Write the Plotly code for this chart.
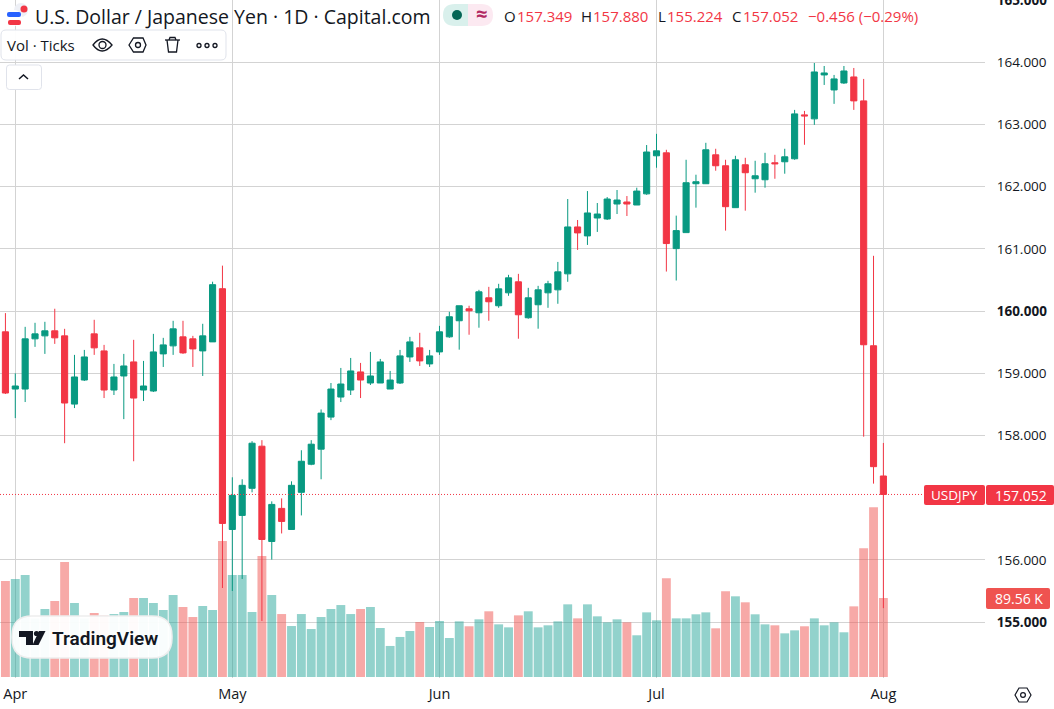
import plotly.graph_objects as go

# ---------- data ----------
sessions = list(range(-1, 89))
opens = [159.667,158.747,158.747,159.554,159.602,159.683,159.602,158.505,158.892,159.634,159.360,158.731,158.957,159.183,158.731,158.715,159.312,159.441,159.586,159.554,159.360,159.505,160.360,156.489,156.715,157.151,157.828,156.296,156.828,156.489,157.086,157.538,157.780,158.296,158.618,158.731,159.022,158.844,158.844,158.747,158.844,159.263,159.409,159.151,159.344,159.586,159.845,160.037,159.973,160.214,160.086,160.294,160.471,159.893,160.102,160.294,160.342,160.599,161.353,161.209,161.497,161.481,161.722,161.754,161.706,161.885,162.497,162.545,161.005,161.262,162.048,162.048,162.513,162.337,161.663,162.353,162.128,162.112,162.385,162.401,162.449,163.155,163.091,163.797,163.556,163.668,163.765,163.380,159.443,157.349]
highs = [159.968,159.000,159.747,159.812,159.828,160.038,159.715,159.296,159.376,159.860,159.457,159.151,159.312,159.538,159.199,159.634,159.570,159.844,159.844,159.602,159.796,160.473,160.731,157.328,157.296,157.909,157.925,156.941,156.989,157.263,157.763,157.925,158.419,158.844,159.086,159.247,159.167,159.344,159.231,159.038,159.376,159.586,159.651,159.376,159.763,159.989,160.086,160.086,160.342,160.390,160.439,160.583,160.599,160.374,160.406,160.487,160.791,161.802,161.465,161.930,161.738,161.834,161.947,161.850,161.984,162.670,162.850,162.594,161.535,162.433,162.193,162.706,162.610,162.433,162.497,162.465,162.417,162.545,162.513,162.610,163.235,163.219,163.989,163.941,163.797,163.941,163.909,163.733,160.889,157.880]
lows = [158.667,158.280,158.538,159.425,159.312,159.473,157.876,158.441,158.876,159.296,158.602,158.651,158.263,157.586,158.554,158.699,159.102,159.296,159.312,159.102,158.957,159.505,155.548,155.500,155.693,157.086,155.018,156.005,156.425,156.489,156.715,157.522,157.296,158.247,158.538,158.651,158.602,158.812,158.844,158.747,158.828,159.183,159.118,159.102,159.296,159.570,159.380,159.620,159.733,159.845,160.053,160.246,159.556,159.877,159.717,160.053,160.118,160.471,160.984,161.064,161.273,161.465,161.561,161.529,161.706,161.870,162.305,160.636,160.492,161.262,161.663,162.048,162.257,161.294,161.663,161.615,161.904,161.984,162.128,162.209,162.433,162.674,162.995,163.636,163.332,163.652,163.235,157.981,157.226,155.224]
closes = [158.683,158.796,159.554,159.634,159.683,159.570,158.522,158.941,159.263,159.409,158.731,158.941,159.118,158.602,158.796,159.344,159.457,159.715,159.328,159.392,159.602,160.425,156.586,157.038,157.199,157.876,156.328,156.892,156.618,157.199,157.586,157.860,158.360,158.747,158.828,159.038,158.892,158.957,159.183,158.892,159.280,159.505,159.199,159.280,159.667,159.909,160.086,160.005,160.310,160.150,160.358,160.535,159.941,160.214,160.342,160.439,160.631,161.353,161.257,161.578,161.561,161.802,161.786,161.722,161.930,162.558,162.577,161.086,161.294,162.064,162.080,162.594,162.337,161.679,162.433,162.225,162.176,162.369,162.369,162.481,163.171,163.139,163.845,163.829,163.733,163.861,163.380,159.459,157.499,157.052]
volumes = [108.9,111.1,115.7,66.5,77.1,86.2,130.4,83.9,66.5,72.6,69.6,71.4,73.7,89.6,89.6,83.9,76.0,93.0,79.4,68.0,80.5,76.0,154.2,115.7,115.7,73.7,137.2,93.0,71.4,57.8,71.4,54.4,68.0,77.1,81.6,71.4,77.1,79.4,55.6,35.2,45.4,52.2,62.4,56.7,63.5,44.2,63.1,57.5,65.4,74.5,59.7,56.3,69.9,74.5,56.3,58.6,63.1,82.4,66.5,82.4,68.8,62.0,65.4,62.0,47.3,73.3,64.3,111.9,66.5,66.5,71.1,73.3,55.2,97.1,91.5,84.7,71.1,59.7,58.6,49.5,52.9,57.5,66.5,58.6,62.0,50.7,80.1,145.9,192.4,89.56]
month_ticks = [0, 22, 43, 65, 88]
month_labels = ["Apr", "May", "Jun", "Jul", "Aug"]
price_ticks = [155, 156, 158, 159, 160, 161, 162, 163, 164, 165]
price_labels = ["<b>155.000</b>", "156.000", "158.000", "159.000", "<b>160.000</b>", "161.000", "162.000", "163.000", "164.000", "<b>165.000</b>"]
last_price = closes[-1]

# ---------- page geometry ----------
W, H = 1054, 709
PL, PR, PT, PB = 0, 985, 0, 678
TEAL, RED = "#089981", "#F23645"
INK = "#131722"
FONT = "Open Sans"

def fx(x): return (x - PL) / (PR - PL)
def fy(y): return 1 - (y - PT) / (PB - PT)

def path(*cmds):
    out = []
    for c in cmds:
        if isinstance(c, str):
            out.append(c)
        else:
            out.append(f"{fx(c[0]):.5f},{fy(c[1]):.5f}")
    return " ".join(out)

def rrect(x0, y0, x1, y1, r, **kw):
    d = path("M", (x0 + r, y0), "L", (x1 - r, y0), "Q", (x1, y0), (x1, y0 + r), "L", (x1, y1 - r),
             "Q", (x1, y1), (x1 - r, y1), "L", (x0 + r, y1), "Q", (x0, y1), (x0, y1 - r),
             "L", (x0, y0 + r), "Q", (x0, y0), (x0 + r, y0), "Z")
    return dict(type="path", xref="paper", yref="paper", path=d, **kw)

def poly(pts, close=True, **kw):
    cmds = []
    for i, p in enumerate(pts):
        cmds += ["M" if i == 0 else "L", p]
    if close:
        cmds.append("Z")
    return dict(type="path", xref="paper", yref="paper", path=path(*cmds), **kw)

def circle(cx, cy, r, **kw):
    return dict(type="circle", xref="paper", yref="paper", x0=fx(cx - r), x1=fx(cx + r), y0=fy(cy + r), y1=fy(cy - r), **kw)

def text(x, y, s, size=14, color=INK, anchor="left", family=FONT, weight=None):
    f = dict(family=family, size=size, color=color)
    if weight:
        f["weight"] = weight
    return dict(xref="paper", yref="paper", x=fx(x), y=fy(y), text=s, showarrow=False, xanchor=anchor, yanchor="middle",
                font=f, borderpad=0)

NOLINE = dict(width=0)
ICON = dict(color=INK, width=1.3)
shapes = [
    # last-price line
    dict(type="line", xref="paper", yref="y2", x0=0, x1=fx(925), y0=last_price, y1=last_price,
         line=dict(color=RED, width=1, dash="1px,2px")),
    # legend pills
    dict(type="path", xref="paper", yref="paper", fillcolor="#D9F0EC", line=NOLINE,
         path=path("M", (468, 4), "L", (455, 4), "Q", (443, 4), (443, 15), "Q", (443, 26), (455, 26), "L", (468, 26), "Z")),
    dict(type="path", xref="paper", yref="paper", fillcolor="#FCE9F1", line=NOLINE,
         path=path("M", (468, 4), "L", (481, 4), "Q", (493, 4), (493, 15), "Q", (493, 26), (481, 26), "L", (468, 26), "Z")),
    circle(457, 15, 5, fillcolor="#056656", line=NOLINE),
    # flag
    circle(21, 10, 7, fillcolor="#EEF0F6", line=NOLINE),
    circle(24, 9, 3.5, fillcolor="#F23645", line=NOLINE),
    circle(14, 18, 8, fillcolor="white", line=NOLINE),
    rrect(7, 12, 21, 17, 2, fillcolor="#2962FF", line=NOLINE),
    rrect(8, 20, 21, 25, 2, fillcolor="#F23645", line=NOLINE),
    # indicator bar
    rrect(1, 30, 226, 60, 5, fillcolor="rgba(255,255,255,0.95)", line=dict(color="#E0E3EB", width=1)),
    # eye
    dict(type="path", xref="paper", yref="paper", line=ICON,
         path=path("M", (93, 45), "Q", (102, 33), (112, 45), "Q", (102, 57), (93, 45), "Z")),
    circle(102.5, 45, 3.5, line=ICON),
    # hexagon
    poly([(129, 45), (133.5, 38), (143, 38), (146, 45), (143, 52), (133.5, 52)], line=ICON),
    circle(138, 45, 2.5, line=ICON),
    # trash
    poly([(165, 40), (180, 40)], close=False, line=ICON),
    poly([(169, 40), (170, 37.5), (175, 37.5), (176, 40)], close=False, line=ICON),
    poly([(167, 40), (168.5, 52), (176.5, 52), (178, 40)], close=False, line=ICON),
    # dots
    circle(199, 45.5, 2, line=ICON), circle(207, 45.5, 2, line=ICON), circle(215, 45.5, 2, line=ICON),
    # collapse button
    rrect(6.5, 65, 41.5, 89.5, 3, fillcolor="white", line=dict(color="#E0E3EB", width=1)),
    poly([(19, 79), (23.5, 75), (28, 79)], close=False, line=dict(color=INK, width=1.5)),
    # watermark pill
    rrect(12, 616, 172, 658, 20, fillcolor="rgba(255,255,255,0.95)", line=dict(color="#EEEEEE", width=1.5)),
    poly([(19, 631), (33, 631), (33, 645), (26, 645), (26, 637), (19, 637)], fillcolor=INK, line=NOLINE),
    circle(36.5, 633.5, 2.6, fillcolor=INK, line=NOLINE),
    poly([(39, 631), (45.5, 631), (38.5, 645), (32.5, 645)], fillcolor=INK, line=NOLINE),
    # price tags
    rrect(924, 485, 985, 505, 2, fillcolor=RED, line=NOLINE),
    rrect(986, 485, 1054, 505, 2, fillcolor=RED, line=NOLINE),
    rrect(986, 588, 1050, 609, 2, fillcolor="#EF5350", line=NOLINE),
    # settings hexagon
    poly([(1015, 695), (1019, 688), (1027, 688), (1031, 695), (1027, 702), (1019, 702)], line=dict(color=INK, width=1.2)),
    circle(1023, 695, 2.4, line=dict(color=INK, width=1.2)),
]

annotations = [
    text(34, 16, "U.S. Dollar / Japanese Yen · 1D · Capital.com", size=19.5),
    text(475, 14, "<b>≈</b>", size=20, color="#B22A63"),
    text(503, 16, "O", size=15),
    text(516, 16, "157.349", size=15, color=RED),
    text(580, 16, "H", size=15),
    text(592, 16, "157.880", size=15, color=RED),
    text(656.5, 16, "L", size=15),
    text(666, 16, "155.224", size=15, color=RED),
    text(731, 16, "C", size=15),
    text(742, 16, "157.052", size=15, color=RED),
    text(807, 16, "−0.456 (−0.29%)", size=15, color=RED),
    text(6, 45, "Vol · Ticks", size=15),
    text(51, 638, "TradingView", size=19, weight=600, family="Roboto"),
    text(954.5, 495, "USDJPY", size=13.5, color="white", anchor="center", weight=500),
    text(1021, 495, "157.052", size=14, color="white", anchor="center", weight=500),
    text(1019, 598.5, "89.56 K", size=14, color="white", anchor="center", weight=500),
]

# ---------- traces ----------
volume_colors = ["rgba(239,83,80,0.5)" if c < o else "rgba(38,166,154,0.5)" for o, c in zip(opens, closes)]

fig = go.Figure()
fig.add_trace(go.Bar(x=sessions, y=volumes, marker=dict(color=volume_colors, line=dict(width=0)), yaxis="y", hoverinfo="skip"))
fig.add_trace(go.Candlestick(
    x=sessions, open=opens, high=highs, low=lows, close=closes, yaxis="y2", whiskerwidth=0, hoverinfo="skip",
    increasing=dict(line=dict(color=TEAL, width=1), fillcolor=TEAL),
    decreasing=dict(line=dict(color=RED, width=1), fillcolor=RED),
))

fig.update_layout(
    width=W, height=H, margin=dict(l=PL, r=W - PR, t=PT, b=H - PB, autoexpand=False),
    paper_bgcolor="white", plot_bgcolor="white", showlegend=False, bargap=0.1, boxgap=0.38, boxgroupgap=0,
    font=dict(family=FONT, color=INK),
    xaxis=dict(range=[-1.55, 98.3], tickmode="array", tickvals=month_ticks, ticktext=month_labels,
               showgrid=True, gridcolor="#D3D3D3", gridwidth=1, zeroline=False, showline=False,
               ticks="outside", ticklen=3, tickcolor="white", tickfont=dict(size=14.5, color=INK, family=FONT, weight=500),
               rangeslider=dict(visible=False), fixedrange=True),
    yaxis=dict(range=[-1.134, 767.7], visible=False, showgrid=False, zeroline=False, fixedrange=True),
    yaxis2=dict(range=[154.101, 165.002], overlaying="y", side="right", anchor="x", tickmode="array",
                tickvals=price_ticks, ticktext=price_labels, showgrid=True, gridcolor="#D3D3D3", gridwidth=1,
                zeroline=False, showline=False, ticks="outside", ticklen=8, tickcolor="white",
                ticklabeloverflow="allow",
                tickfont=dict(size=13.5, color=INK, family=FONT), fixedrange=True),
    shapes=shapes, annotations=annotations,
)

fig.write_html("out.html", config=dict(displayModeBar=False),
               post_script="document.body.style.margin='0';document.body.style.overflow='hidden';")
